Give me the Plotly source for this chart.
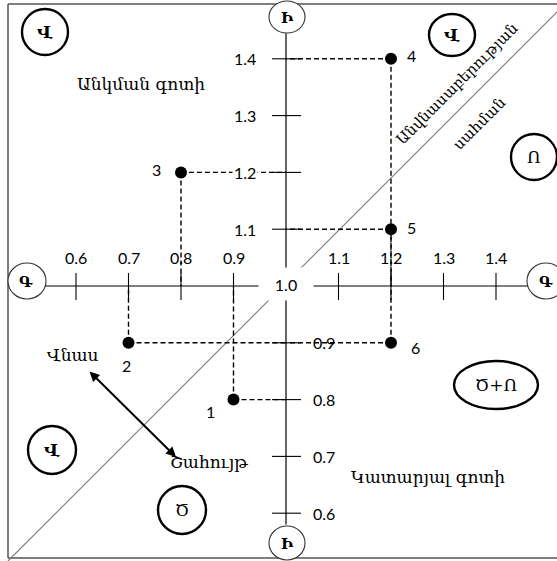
import plotly.graph_objects as go

# ---------------- data ----------------
point_ids = ["1", "2", "3", "4", "5", "6"]
point_x = [0.9, 0.7, 0.8, 1.2, 1.2, 1.2]
point_y = [0.8, 0.9, 1.2, 1.4, 1.1, 0.9]
x_ticks = [0.6, 0.7, 0.8, 0.9, 1.1, 1.2, 1.3, 1.4]
y_ticks = [0.6, 0.7, 0.8, 0.9, 1.1, 1.2, 1.3, 1.4]
origin_value = 1.0
origin_label = "1.0"
axis_letter_x = "Գ"
axis_letter_y = "Ի"
zone_upper = "Անկման գոտի"
zone_lower = "Կատարյալ գոտի"
boundary_line1 = "Անվնասաբերության"
boundary_line2 = "սահման"
arrow_top = "Վնաս"
arrow_bottom = "Շահույթ"
quadrant_letters = ["Վ", "Վ", "Ո", "Վ", "Ծ", "Ծ+Ո"]

# ---------------- layout helpers ----------------
W, H = 557, 561
X_RANGE = [0.455238, 1.516190]
Y_RANGE = [0.515845, 1.503521]
ARM = "DejaVu Serif, serif"
NUM = "Lato, Carlito, sans-serif"


def px(x):
    return x / W


def py(y):
    return 1 - y / H


fig = go.Figure()

# dashed projections of each point onto both axes
dx, dy = [], []
for x, y in zip(point_x, point_y):
    dx += [x, x, None, x, origin_value, None]
    dy += [y, origin_value, None, y, y, None]
fig.add_trace(go.Scatter(x=dx, y=dy, mode="lines",
                         line=dict(color="black", width=1.4, dash="5px,3px"),
                         hoverinfo="skip", showlegend=False))
fig.add_trace(go.Scatter(x=point_x, y=point_y, mode="markers",
                         marker=dict(color="black", size=12),
                         hoverinfo="skip", showlegend=False))

shapes = []
# frame
frame = dict(type="line", xref="paper", yref="paper", line=dict(color="#555", width=1.5), layer="below")
shapes.append(dict(frame, x0=px(8), x1=px(8), y0=py(4), y1=py(558)))
shapes.append(dict(frame, x0=px(8), x1=1.02, y0=py(4), y1=py(4)))
shapes.append(dict(frame, x0=px(8), x1=1.02, y0=py(558), y1=py(558)))
# diagonal (break-even line)
shapes.append(dict(type="line", xref="paper", yref="paper", x0=px(8), y0=py(561), x1=px(566), y1=py(3),
                   line=dict(color="#777", width=1.1), layer="below"))
# axes
shapes.append(dict(type="line", xref="x", yref="y", x0=0.54, x1=1.46, y0=origin_value, y1=origin_value,
                   line=dict(color="black", width=1.2), layer="below"))
shapes.append(dict(type="line", xref="x", yref="y", x0=origin_value, x1=origin_value, y0=0.58, y1=1.445,
                   line=dict(color="black", width=1.2), layer="below"))
# ticks
for t in x_ticks:
    shapes.append(dict(type="line", xref="x", yref="y", x0=t, x1=t, ysizemode="pixel", yanchor=origin_value,
                       y0=-14, y1=13, line=dict(color="black", width=1.1), layer="below"))
for t in y_ticks:
    shapes.append(dict(type="line", xref="x", yref="y", y0=t, y1=t, xsizemode="pixel", xanchor=origin_value,
                       x0=-14, x1=15, line=dict(color="black", width=1.1), layer="below"))


def circ(cx, cy, rx, ry, width, color="black"):
    return dict(type="circle", xref="paper", yref="paper", x0=px(cx - rx), x1=px(cx + rx),
                y0=py(cy + ry), y1=py(cy - ry), fillcolor="white",
                line=dict(color=color, width=width), layer="above")


# axis end circles
shapes.append(circ(27, 281, 19, 18, 1.1, "#333"))
shapes.append(circ(546, 281, 19, 18, 1.1, "#333"))
shapes.append(circ(287, 17, 18, 16, 1.1, "#333"))
shapes.append(circ(287, 543, 18, 17, 1.1, "#333"))
# zone circles
zone_pos = [(45, 32, 23, 23), (452, 35, 23, 21), (534, 157, 23, 23), (52, 450, 24, 24), (182, 510, 24, 24),
            (496, 385, 42, 24)]
for (cx, cy, rx, ry) in zone_pos:
    shapes.append(circ(cx, cy, rx, ry, 2.4))

ann = []


def text_px(x, y, s, size=15, family=ARM, **kw):
    d = dict(xref="paper", yref="paper", x=px(x), y=py(y), text=s, showarrow=False,
             font=dict(family=family, size=size, color="black"), xanchor="center", yanchor="middle")
    d.update(kw)
    ann.append(d)


# tick labels
for t in x_ticks:
    ann.append(dict(xref="x", yref="y", x=t, y=origin_value, yshift=29, text=f"{t:.1f}", showarrow=False,
                    font=dict(family=NUM, size=16, color="black"), xanchor="center", yanchor="middle"))
for t in y_ticks:
    upper = t > origin_value
    ann.append(dict(xref="x", yref="y", x=origin_value, y=t, xshift=-41 if upper else 38, text=f"{t:.1f}",
                    showarrow=False, font=dict(family=NUM, size=16, color="black"),
                    xanchor="center", yanchor="middle", bgcolor="white" if upper else None))
# origin label covering the crossing
ann.append(dict(xref="x", yref="y", x=origin_value, y=origin_value, text=origin_label, showarrow=False,
                font=dict(family=NUM, size=16, color="black"), bgcolor="white", width=46, height=24,
                borderpad=4, xanchor="center", yanchor="middle", yshift=2))
# point labels
pt_shift = [(-23, -12), (-2, -23), (-25, 3), (20, 3), (20, 2), (24, -5)]
for pid, x, y, (sx, sy) in zip(point_ids, point_x, point_y, pt_shift):
    ann.append(dict(xref="x", yref="y", x=x, y=y, xshift=sx, yshift=sy, text=pid, showarrow=False,
                    font=dict(family=NUM, size=16, color="black"), xanchor="center", yanchor="middle"))
# axis letters
for (x, y) in [(27, 282), (546, 282)]:
    text_px(x, y, f"<b>{axis_letter_x}</b>", size=15)
for (x, y) in [(287, 18), (287, 544)]:
    text_px(x, y, f"<b>{axis_letter_y}</b>", size=15)
# zone letters
for (cx, cy, rx, ry), s in zip(zone_pos, quadrant_letters):
    if s == "Վ":
        text_px(cx, cy, f"<b>{s}</b>", size=17)
    else:
        text_px(cx, cy, s, size=17)
# zone texts
text_px(141, 84, zone_upper, size=17)
text_px(428, 477, zone_lower, size=17)
text_px(73, 355, arrow_top, size=17)
text_px(209, 462, arrow_bottom, size=17)
text_px(457, 84, boundary_line1, size=15, textangle=-45)
text_px(479, 124, boundary_line2, size=15, textangle=-45)
# double arrow
ann.append(dict(xref="paper", yref="paper", x=px(176), y=py(457), ax=-88, ay=-87, text="",
                showarrow=True, arrowhead=2, startarrowhead=2, arrowside="end+start", arrowwidth=2,
                arrowsize=1, startarrowsize=1, arrowcolor="black", standoff=0, startstandoff=0))

fig.update_layout(
    width=W, height=H, margin=dict(l=0, r=0, t=0, b=0),
    paper_bgcolor="white", plot_bgcolor="white",
    xaxis=dict(range=X_RANGE, visible=False, fixedrange=True),
    yaxis=dict(range=Y_RANGE, visible=False, fixedrange=True),
    shapes=shapes, annotations=ann, showlegend=False,
)
fig.write_html("out.html", config={"displayModeBar": False},
               post_script="document.body.style.margin='0px';")
